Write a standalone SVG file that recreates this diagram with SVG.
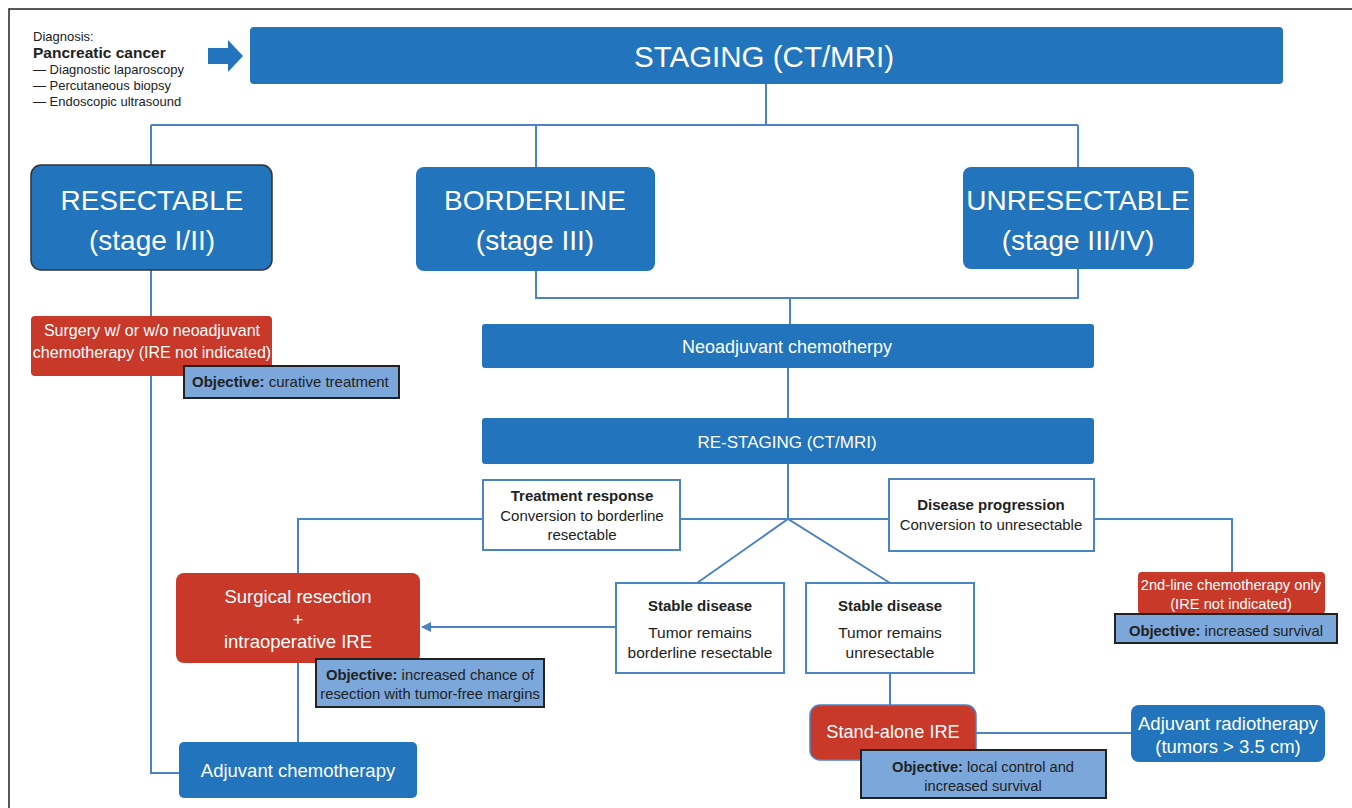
<svg xmlns="http://www.w3.org/2000/svg" width="1352" height="808" viewBox="0 0 1352 808">
<style>
text{font-family:"Liberation Sans",Arial,sans-serif;}
.blue{fill:#2274bc;}
.red{fill:#c8392a;}
.obj{fill:#7ba7da;stroke:#222;stroke-width:2;}
.wbox{fill:#fff;stroke:#4a84c4;stroke-width:2;}
.wt{fill:#fff;text-anchor:middle;}
.dk{fill:#222;text-anchor:middle;}
.ln{fill:none;stroke:#4a84c4;stroke-width:2;}
.b{font-weight:bold;}
</style>
<defs>
<marker id="ah" markerWidth="10" markerHeight="10" refX="9" refY="5" orient="auto" markerUnits="userSpaceOnUse">
<path d="M0,0 L10,5 L0,10 Z" fill="#4a84c4"/>
</marker>
</defs>
<rect width="1352" height="808" fill="#fff"/>
<path d="M9,808 V9 H1352" fill="none" stroke="#222" stroke-width="1.5"/>

<g id="connectors">
<path class="ln" d="M766,84 V125 M151,125 H1078 M151,125 V165 M536,125 V167 M1078,125 V167"/>
<path class="ln" d="M536,271 V298 H1078 V269 M790,298 V324"/>
<path class="ln" d="M788,368 V418"/>
<path class="ln" d="M788,464 V519 M298,573 V519 H483 M680,519 H889 M1094,519 H1232 V572"/>
<path class="ln" d="M697,583 L788,519 L890,583"/>
<path class="ln" d="M151,270 V316 M151,376 V773 H179"/>
<path class="ln" d="M298,663 V742"/>
<path class="ln" d="M890,673 V705"/>
<path class="ln" d="M976,733 H1131"/>
<path class="ln" d="M616,627 H422" marker-end="url(#ah)"/>
</g>

<g id="diagnosis">
<text x="33" y="41" font-size="13" fill="#222">Diagnosis:</text>
<text x="33" y="58" font-size="15.5" font-weight="bold" fill="#222">Pancreatic cancer</text>
<text x="33" y="74" font-size="13" fill="#222">— Diagnostic laparoscopy</text>
<text x="33" y="90" font-size="13" fill="#222">— Percutaneous biopsy</text>
<text x="33" y="106" font-size="13" fill="#222">— Endoscopic ultrasound</text>
<path d="M208,48 H228 V40 L243,56 L228,72 V64 H208 Z" fill="#2274bc"/>
</g>

<g id="staging">
<rect class="blue" x="250" y="27" width="1033" height="57" rx="4"/>
<text class="wt" x="764" y="67" font-size="29.5">STAGING (CT/MRI)</text>
</g>

<g id="resectable">
<rect class="blue" x="31" y="165" width="241" height="105" rx="10" stroke="#333" stroke-width="1.5"/>
<text class="wt" x="152" y="210" font-size="28">RESECTABLE</text>
<text class="wt" x="152" y="250" font-size="28">(stage I/II)</text>
</g>

<g id="borderline">
<rect class="blue" x="416" y="167" width="239" height="104" rx="8"/>
<text class="wt" x="535" y="210" font-size="28">BORDERLINE</text>
<text class="wt" x="535" y="250" font-size="28">(stage III)</text>
</g>

<g id="unresectable">
<rect class="blue" x="963" y="167" width="231" height="102" rx="8"/>
<text class="wt" x="1078" y="210" font-size="28">UNRESECTABLE</text>
<text class="wt" x="1078" y="250" font-size="28">(stage III/IV)</text>
</g>

<g id="neoadjuvant">
<rect class="blue" x="482" y="324" width="612" height="44" rx="3"/>
<text class="wt" x="787" y="353" font-size="18">Neoadjuvant chemotherpy</text>
</g>

<g id="restaging">
<rect class="blue" x="482" y="418" width="612" height="46" rx="3"/>
<text class="wt" x="787" y="448" font-size="17">RE-STAGING (CT/MRI)</text>
</g>

<g id="surgery">
<rect class="red" x="31" y="316" width="241" height="60" rx="4"/>
<text class="wt" x="152" y="336" font-size="16">Surgery w/ or w/o neoadjuvant</text>
<text class="wt" x="152" y="358" font-size="16">chemotherapy (IRE not indicated)</text>
</g>
<g id="obj-curative">
<rect class="obj" x="184" y="366" width="215" height="32"/>
<text x="192" y="387" font-size="15" fill="#222"><tspan font-weight="bold">Objective:</tspan> curative treatment</text>
</g>

<g id="treatment-response">
<rect class="wbox" x="483" y="480" width="197" height="70"/>
<text class="dk b" x="582" y="501" font-size="15">Treatment response</text>
<text class="dk" x="582" y="521" font-size="15">Conversion to borderline</text>
<text class="dk" x="582" y="540" font-size="15">resectable</text>
</g>

<g id="disease-progression">
<rect class="wbox" x="889" y="479" width="205" height="72"/>
<text class="dk b" x="991" y="510" font-size="15">Disease progression</text>
<text class="dk" x="991" y="530" font-size="15">Conversion to unresectable</text>
</g>

<g id="stable1">
<rect class="wbox" x="616" y="583" width="168" height="90"/>
<text class="dk b" x="700" y="611" font-size="15">Stable disease</text>
<text class="dk" x="700" y="638" font-size="15.5">Tumor remains</text>
<text class="dk" x="700" y="658" font-size="15.5">borderline resectable</text>
</g>

<g id="stable2">
<rect class="wbox" x="806" y="583" width="168" height="90"/>
<text class="dk b" x="890" y="611" font-size="15">Stable disease</text>
<text class="dk" x="890" y="638" font-size="15.5">Tumor remains</text>
<text class="dk" x="890" y="658" font-size="15.5">unresectable</text>
</g>

<g id="surgical-resection">
<rect class="red" x="176" y="573" width="244" height="90" rx="8"/>
<text class="wt" x="298" y="603" font-size="18.5">Surgical resection</text>
<text class="wt" x="298" y="626" font-size="18.5">+</text>
<text class="wt" x="298" y="648" font-size="18.5">intraoperative IRE</text>
</g>
<g id="obj-margins">
<rect class="obj" x="316" y="659" width="228" height="48"/>
<text class="dk" x="430" y="680" font-size="14.8"><tspan font-weight="bold">Objective:</tspan> increased chance of</text>
<text class="dk" x="430" y="699" font-size="14.8">resection with tumor-free margins</text>
</g>

<g id="adjuvant-chemo">
<rect class="blue" x="179" y="742" width="238" height="56" rx="5"/>
<text class="wt" x="298" y="777" font-size="18.5">Adjuvant chemotherapy</text>
</g>

<g id="second-line">
<rect class="red" x="1138" y="572" width="187" height="42" rx="4"/>
<text class="wt" x="1231" y="590" font-size="14.7">2nd-line chemotherapy only</text>
<text class="wt" x="1231" y="609" font-size="14.7">(IRE not indicated)</text>
</g>
<g id="obj-survival">
<rect class="obj" x="1115" y="614" width="222" height="29"/>
<text class="dk" x="1226" y="636" font-size="14.8"><tspan font-weight="bold">Objective:</tspan> increased survival</text>
</g>

<g id="standalone-ire">
<rect class="red" x="810" y="705" width="166" height="55" rx="10" stroke="#4a84c4" stroke-width="1.5"/>
<text class="wt" x="893" y="738" font-size="18.2">Stand-alone IRE</text>
</g>
<g id="obj-local">
<rect class="obj" x="861" y="750" width="245" height="48"/>
<text class="dk" x="983" y="772" font-size="14.7"><tspan font-weight="bold">Objective:</tspan> local control and</text>
<text class="dk" x="983" y="791" font-size="14.7">increased survival</text>
</g>

<g id="adjuvant-radio">
<rect class="blue" x="1131" y="705" width="194" height="57" rx="8"/>
<text class="wt" x="1228" y="730" font-size="18.5">Adjuvant radiotherapy</text>
<text class="wt" x="1228" y="753" font-size="18.5">(tumors &gt; 3.5 cm)</text>
</g>
</svg>
